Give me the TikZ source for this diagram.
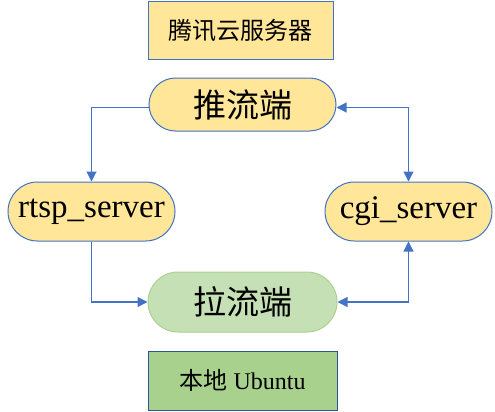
\documentclass[tikz,border=0pt]{standalone}
\usepackage{fontspec}
\setmainfont{Liberation Serif}
\newfontfamily\cjk{Noto Sans CJK SC}
\usetikzlibrary{arrows.meta,calc}
\definecolor{yel}{HTML}{FFE699}
\definecolor{grn}{HTML}{C5E0B4}
\definecolor{grnb}{HTML}{A9D18E}
\definecolor{blu}{HTML}{4472C4}
\definecolor{dblu}{HTML}{2F5597}
\begin{document}
\begin{tikzpicture}[x=1pt,y=-1pt,
  boxnode/.style={draw=blu,line width=1pt,inner sep=0pt,font=\fontsize{24}{27}\selectfont},
  pill/.style={draw=blu,line width=1pt,fill=yel,inner sep=0pt,font=\fontsize{33}{36}\selectfont},
  conn/.style={draw=blu,line width=1.1pt,-{Triangle[length=10pt,width=10pt]}},
  bconn/.style={draw=blu,line width=1.1pt,{Triangle[length=10pt,width=10pt]}-{Triangle[length=10pt,width=10pt]}}]
\useasboundingbox (0,0) rectangle (495,412);
\node[boxnode,fill=yel,minimum width=185pt,minimum height=58pt] (cloud) at (240.5,31) {\cjk 腾讯云服务器};
\node[pill,minimum width=187pt,minimum height=53pt,rounded corners=26.5pt] (push) at (242.5,104.5) {\cjk 推流端};
\node[pill,minimum width=167pt,minimum height=59pt,rounded corners=29.5pt] (rtsp) at (91.5,211.5) {rtsp\_server};
\node[pill,minimum width=167pt,minimum height=59pt,rounded corners=29.5pt] (cgi) at (408.5,211.5) {cgi\_server};
\node[pill,draw=grnb,fill=grn,minimum width=189pt,minimum height=60pt,rounded corners=30pt] (pull) at (242.5,302) {\cjk 拉流端};
\node[boxnode,draw=dblu,fill=grnb,minimum width=189pt,minimum height=59pt] (ubuntu) at (242.5,380.5) {{\cjk 本地} Ubuntu};
\coordinate (pl) at ($(push.west)+(0,3)$);
\coordinate (pr) at ($(push.east)+(0,3)$);
\draw[conn] (pl) -| (rtsp.north);
\draw[conn] (rtsp.south) |- (pull.west);
\draw[bconn] (pr) -| (cgi.north);
\draw[bconn] (pull.east) -| (cgi.south);
\end{tikzpicture}
\end{document}
